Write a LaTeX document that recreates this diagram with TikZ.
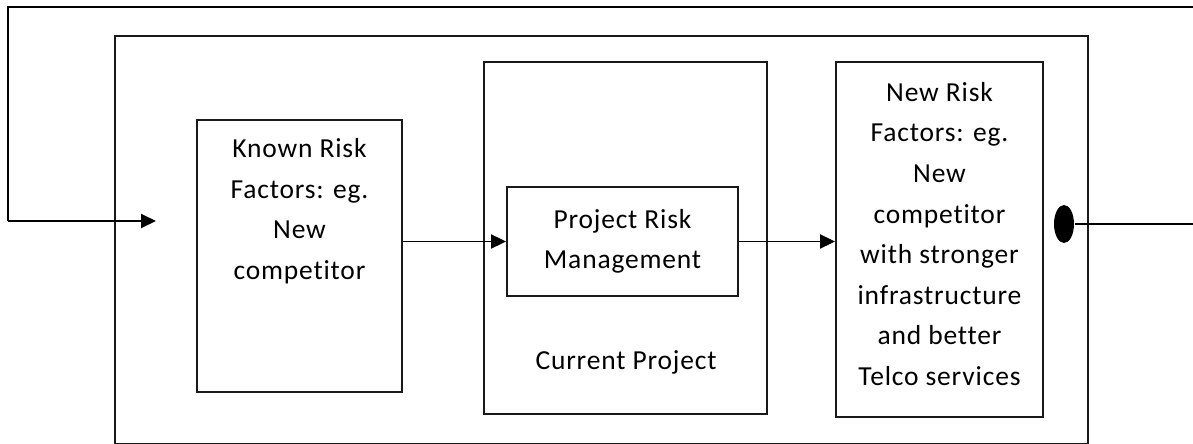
\documentclass[tikz,border=0pt]{standalone}
\usepackage{fontspec}
\setmainfont{Carlito}[Ligatures=NoCommon, LetterSpace=3]
\usetikzlibrary{arrows.meta,shapes.geometric}
\begin{document}
\begin{tikzpicture}[x=1pt,y=-1pt,
  line width=1.9pt,
  box/.style={draw=black!90, rectangle, inner sep=0pt},
  txt/.style={align=center, inner sep=0pt, font=\fontsize{27.5}{40.6}\selectfont},
  arr/.style={-{Triangle[length=15pt,width=14pt]}},
  dot/.style={ellipse, fill=black, inner sep=0pt, minimum width=20pt, minimum height=38pt}]
  \useasboundingbox (0,0) rectangle (1193,444);

  % enclosing frame
  \node[box, minimum width=973pt, minimum height=407.5pt] (frame) at (601.5,239.75) {};

  % inner boxes
  \node[box, minimum width=205pt, minimum height=272pt] (known) at (299.5,256) {};
  \node[box, minimum width=283pt, minimum height=352pt] (current) at (625.5,238) {};
  \node[box, minimum width=231pt, minimum height=109pt, txt] (prm) at (622.5,241.5)
    {Project Risk\\Management};
  \node[box, minimum width=207pt, minimum height=355pt] (newrisk) at (939.5,239.5) {};

  % box texts
  \node[txt] (knowntxt) at (299.5,211) {Known Risk\\Factors: eg.\\New\\competitor};
  \node[txt] (currenttxt) at (626,362) {Current Project};
  \node[txt] (newrisktxt) at (939.5,234)
    {New Risk\\Factors: eg.\\New\\competitor\\with stronger\\infrastructure\\and better\\Telco services};

  % flow arrows
  \draw[arr] (prm.west -| known.east) -- (prm.west);
  \draw[arr] (prm.east) -- (prm.east -| newrisk.west);

  % feedback loop
  \node[dot] (out) at (1064,224) {};
  \coordinate (fbR) at (1198,224);
  \coordinate (fbTR) at (1198,7);
  \coordinate (fbTL) at (8,7);
  \coordinate (fbBL) at (8,221);
  \coordinate (fbEnd) at (156,221);
  \draw (out.east) -- (fbR) -- (fbTR) -- (fbTL) -- (fbBL);
  \draw[arr] (fbBL) -- (fbEnd);
\end{tikzpicture}
\end{document}
